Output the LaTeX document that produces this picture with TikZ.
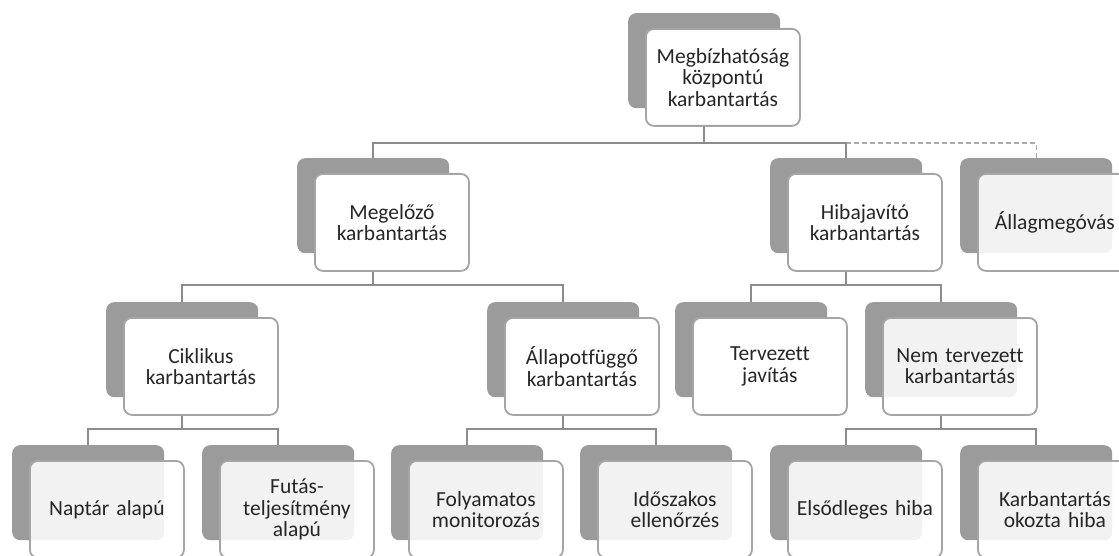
\documentclass[tikz,border=0pt]{standalone}
\usepackage{fontspec}
\setmainfont{Carlito}[Ligatures=NoCommon]
\definecolor{backgray}{RGB}{155,155,155}
\definecolor{edgegray}{RGB}{165,165,165}
\definecolor{linegray}{RGB}{140,140,140}
\definecolor{dashgray}{RGB}{170,170,170}
\definecolor{txt}{RGB}{38,38,38}
\tikzset{
  backbox/.style={rectangle, rounded corners=8pt, fill=backgray, draw=none,
    minimum width=152pt, minimum height=95pt, inner sep=0pt},
  frontbox/.style={rectangle, rounded corners=8pt, fill=white, draw=edgegray,
    line width=1.8pt, minimum height=97pt, text width=150pt, inner sep=2pt,
    align=center, text=txt, font=\fontsize{21.5}{21.5}\selectfont},
  glassbox/.style={frontbox, fill opacity=0.88, text opacity=1},
  conn/.style={draw=linegray, line width=2pt},
  dconn/.style={draw=dashgray, line width=1.4pt, dash pattern=on 5pt off 3pt},
}
% back plate plus front card: #1 name, #2 left, #3 top, #4 card style, #5 text
\newcommand\treebox[5]{%
  \node[backbox, anchor=north west] (b-#1) at (#2,#3) {};
  \node[#4, anchor=north west] (#1) at (#2+17,#3+15) {#5};
}
\begin{document}
\begin{tikzpicture}[x=1pt,y=-1pt]
\fill[white] (0,0) rectangle (1119,556);
\useasboundingbox (0,0) rectangle (1119,556);

% level 1
\treebox{top}{628}{13}{frontbox}{Megbízhatóság\\központú\\karbantartás}
% level 2
\treebox{meg}{297}{158}{frontbox}{Megelőző\\karbantartás}
\treebox{hib}{770}{158}{frontbox}{Hibajavító\\karbantartás}
\treebox{all}{960}{158}{glassbox}{Állagmegóvás}
% level 3
\treebox{cik}{106}{302}{frontbox}{Ciklikus\\karbantartás}
\treebox{apf}{487}{302}{frontbox}{Állapotfüggő\\karbantartás}
\treebox{ter}{675}{302}{frontbox}{Tervezett\\javítás}
\treebox{nem}{865}{302}{glassbox}{Nem tervezett\\karbantartás}
% level 4
\treebox{nap}{12}{445}{glassbox}{Naptár alapú}
\treebox{fut}{202}{445}{glassbox}{Futás-\\teljesítmény\\alapú}
\treebox{fol}{391}{445}{glassbox}{Folyamatos\\monitorozás}
\treebox{ido}{580}{445}{glassbox}{Időszakos\\ellenőrzés}
\treebox{els}{770}{445}{glassbox}{Elsődleges hiba}
\treebox{kar}{960}{445}{glassbox}{Karbantartás\\okozta hiba}

% rails of the connectors
\coordinate (r1) at (0,143);
\coordinate (r2) at (0,285);
\coordinate (r3) at (0,429);

% connectors
\draw[dconn] (b-hib |- r1) -| (b-all.north);
\draw[conn] (b-top |- top.south) -- (b-top |- r1);
\draw[conn] (b-top |- r1) -| (b-meg.north);
\draw[conn] (b-top |- r1) -| (b-hib.north);

\draw[conn] (b-meg |- meg.south) -- (b-meg |- r2);
\draw[conn] (b-meg |- r2) -| (b-cik.north);
\draw[conn] (b-meg |- r2) -| (b-apf.north);
\draw[conn] (b-hib |- hib.south) -- (b-hib |- r2);
\draw[conn] (b-hib |- r2) -| (b-ter.north);
\draw[conn] (b-hib |- r2) -| (b-nem.north);

\draw[conn] (b-cik |- cik.south) -- (b-cik |- r3);
\draw[conn] (b-cik |- r3) -| (b-nap.north);
\draw[conn] (b-cik |- r3) -| (b-fut.north);
\draw[conn] (b-apf |- apf.south) -- (b-apf |- r3);
\draw[conn] (b-apf |- r3) -| (b-fol.north);
\draw[conn] (b-apf |- r3) -| (b-ido.north);
\draw[conn] (b-nem |- nem.south) -- (b-nem |- r3);
\draw[conn] (b-nem |- r3) -| (b-els.north);
\draw[conn] (b-nem |- r3) -| (b-kar.north);
\end{tikzpicture}
\end{document}
